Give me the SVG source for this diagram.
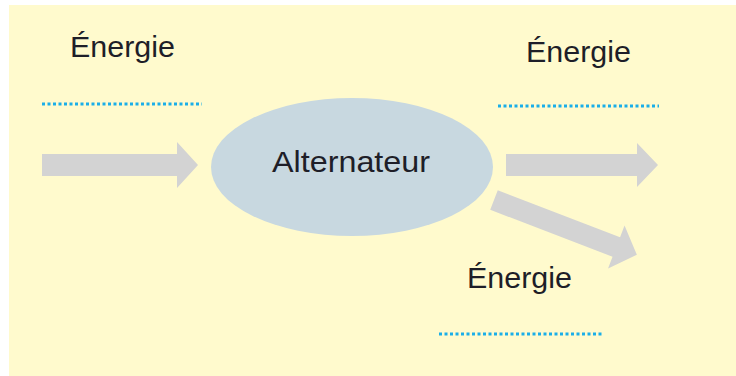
<svg xmlns="http://www.w3.org/2000/svg" width="736" height="376" viewBox="0 0 736 376">
<style>
.lbl{font-family:"Liberation Sans",Arial,sans-serif;font-size:30px;fill:#1e1e28;}
.dot{stroke:#1aaee8;stroke-width:3;stroke-dasharray:3 2.5;fill:none;}
.arr{fill:#d3d3d3;}
</style>
<rect x="0" y="0" width="736" height="376" fill="#ffffff"/>
<rect x="9" y="5" width="727" height="371" fill="#fffacd"/>
<g id="connectors">
<polygon class="arr" points="42,154 177,154 177,142 198,165 177,188 177,176 42,176"/>
<polygon class="arr" points="506,154 637,154 637,143 658,165 637,187 637,176 506,176"/>
<polygon class="arr" transform="translate(494,200) rotate(21)" points="0,-10.5 131,-10.5 131,-23 153,0 131,23 131,10.5 0,10.5"/>
</g>
<g id="alternateur">
<ellipse cx="352" cy="167" rx="141" ry="69" fill="#c8d8e0"/>
<text class="lbl" x="272" y="172" font-size="35" textLength="158" lengthAdjust="spacingAndGlyphs">Alternateur</text>
</g>
<g id="energie-entree">
<text class="lbl" x="70" y="57" textLength="105" lengthAdjust="spacingAndGlyphs">Énergie</text>
<line class="dot" x1="42" y1="104" x2="202" y2="104"/>
</g>
<g id="energie-sortie-1">
<text class="lbl" x="526" y="62" textLength="105" lengthAdjust="spacingAndGlyphs">Énergie</text>
<line class="dot" x1="498" y1="106" x2="659" y2="106"/>
</g>
<g id="energie-sortie-2">
<text class="lbl" x="467" y="288" textLength="105" lengthAdjust="spacingAndGlyphs">Énergie</text>
<line class="dot" x1="439" y1="334" x2="602" y2="334"/>
</g>
</svg>
